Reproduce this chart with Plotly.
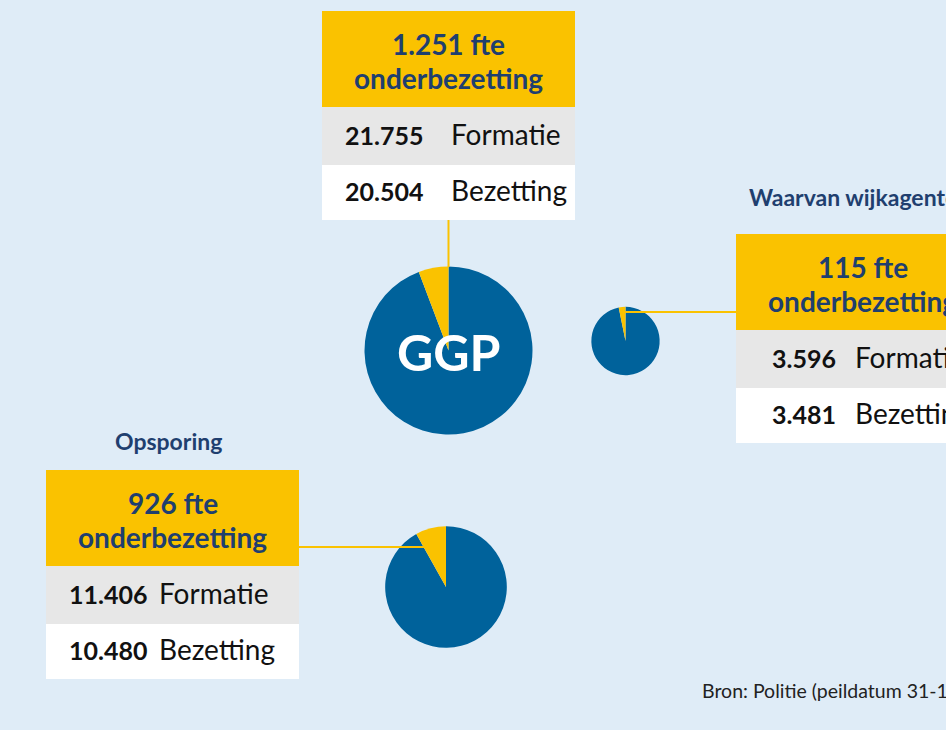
import plotly.graph_objects as go
import math

# ---- data ----
groups = ["GGP", "Waarvan wijkagenten", "Opsporing"]
formatie = [21755, 3596, 11406]
bezetting = [20504, 3481, 10480]
onderbezetting = [1251, 115, 926]
formatie_lbl = ["21.755", "3.596", "11.406"]
bezetting_lbl = ["20.504", "3.481", "10.480"]
onder_lbl = ["1.251 fte", "115 fte", "926 fte"]

W, H = 946, 730
BG = "#dfecf7"
BLUE = "#00629b"
YELLOW = "#fac200"
NAVY = "#1f3f6f"
GREY = "#e7e7e7"
FONT = "Lato"

def px(x):
    return x / W

def py(y):
    return 1 - y / H

# layout of pies (pixel centres); radius scales with sqrt(formatie)
centers = [(448.5, 350.5), (625.5, 341), (446, 587)]
k = 84 / math.sqrt(formatie[0])

fig = go.Figure()
for i, g in enumerate(groups):
    r = k * math.sqrt(formatie[i])
    cx, cy = centers[i]
    fig.add_trace(go.Pie(
        values=[bezetting[i], onderbezetting[i]],
        labels=["bezetting", "onderbezetting"],
        marker=dict(colors=[BLUE, YELLOW], line=dict(width=0)),
        sort=False, direction="clockwise", rotation=0,
        textinfo="none", hoverinfo="label+value", showlegend=False,
        domain=dict(x=[px(cx - r), px(cx + r)], y=[py(cy + r), py(cy - r)]),
    ))

shapes = []
annotations = []

def rect(x0, y0, x1, y1, color):
    shapes.append(dict(type="rect", xref="paper", yref="paper",
                       x0=px(x0), x1=px(x1), y0=py(y1), y1=py(y0),
                       fillcolor=color, line=dict(width=0), layer="below"))

def line(x0, y0, x1, y1):
    shapes.append(dict(type="line", xref="paper", yref="paper",
                       x0=px(x0), x1=px(x1), y0=py(y0), y1=py(y1),
                       line=dict(color=YELLOW, width=2), layer="above"))

def text(x, y, s, size, color, anchor="center", bold=False):
    annotations.append(dict(xref="paper", yref="paper", x=px(x), y=py(y),
                            text=("<b>%s</b>" % s) if bold else s,
                            showarrow=False, xanchor=anchor, yanchor="middle",
                            font=dict(family=FONT, size=size, color=color)))

# boxes: (x0, top, x1, numRight, labelLeft)
boxes = [(322, 11, 575, 425, 449), (736, 234, 989, 838, 853), (46, 470, 299, 149, 157)]
for i, (x0, top, x1, nr, ll) in enumerate(boxes):
    cx = (x0 + x1) / 2
    rect(x0, top, x1, top + 96, YELLOW)
    rect(x0, top + 96, x1, top + 154, GREY)
    rect(x0, top + 154, x1, top + 209, "white")
    text(cx, top + 33, onder_lbl[i], 28, NAVY, bold=True)
    text(cx, top + 67, "onderbezetting", 28, NAVY, bold=True)
    text(nr, top + 124, formatie_lbl[i], 25, "#111111", anchor="right", bold=True)
    text(ll, top + 123, "Formatie", 28, "#111111", anchor="left")
    text(nr, top + 180, bezetting_lbl[i], 25, "#111111", anchor="right", bold=True)
    text(ll, top + 179, "Bezetting", 28, "#111111", anchor="left")

# connectors
line(448.5, 220, 448.5, 267)
line(625, 312, 736, 312)
line(299, 547, 435, 547)

# titles
text(747, 197, groups[1], 23, NAVY, anchor="left", bold=True)
text(168, 441, groups[2], 23, NAVY, bold=True)
text(449, 352, groups[0], 50, "white", bold=True)
text(700, 690, "Bron: Politie (peildatum 31-12-2023)", 19.5, "#222222", anchor="left")

fig.update_layout(width=W, height=H, margin=dict(l=0, r=0, t=0, b=0),
                  paper_bgcolor=BG, plot_bgcolor=BG,
                  shapes=shapes, annotations=annotations)
fig.write_html("out.html", config=dict(displayModeBar=False),
               post_script="document.body.style.margin='0';document.body.style.overflow='hidden';document.body.style.background='%s';" % BG)
